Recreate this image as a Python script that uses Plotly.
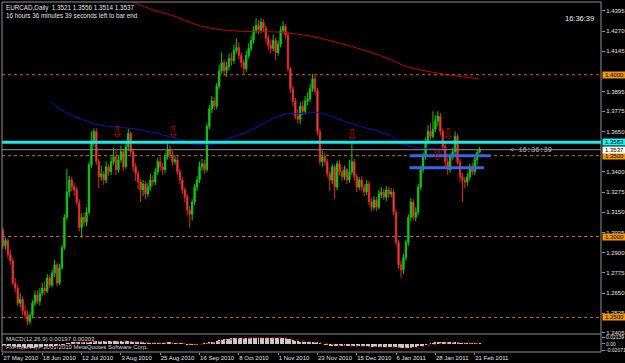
import plotly.graph_objects as go
import pandas as pd

# ---------------- data ----------------
bar_idx = list(range(195))
dates = pd.bdate_range("2010-05-27", periods=195)

opens = [1.3038,1.2944,1.2975,1.2888,1.2850,1.2713,1.2681,1.2588,1.2613,1.2538,
1.2513,1.2475,1.2513,1.2588,1.2638,1.2600,1.2650,1.2681,1.2663,1.2744,
1.2700,1.2775,1.2825,1.2713,1.2806,1.2931,1.3119,1.3275,1.3350,1.3306,
1.3288,1.3213,1.3056,1.3119,1.3088,1.3150,1.3444,1.3588,1.3650,1.3463,
1.3369,1.3388,1.3350,1.3431,1.3400,1.3463,1.3494,1.3413,1.3475,1.3525,
1.3431,1.3556,1.3638,1.3525,1.3431,1.3388,1.3338,1.3288,1.3325,1.3263,
1.3306,1.3350,1.3338,1.3400,1.3463,1.3431,1.3413,1.3494,1.3538,1.3506,
1.3463,1.3475,1.3400,1.3350,1.3288,1.3244,1.3163,1.3138,1.3213,1.3306,
1.3350,1.3431,1.3450,1.3413,1.3681,1.3788,1.3838,1.3806,1.3931,1.4025,
1.4075,1.4025,1.4050,1.4100,1.4088,1.4150,1.4169,1.4119,1.4075,1.4038,
1.4119,1.4163,1.4213,1.4275,1.4306,1.4275,1.4325,1.4288,1.4225,1.4181,
1.4163,1.4213,1.4138,1.4188,1.4275,1.4300,1.4244,1.4038,1.3913,1.3838,
1.3744,1.3725,1.3806,1.3775,1.3838,1.3850,1.3913,1.3975,1.3900,1.3650,
1.3463,1.3494,1.3463,1.3388,1.3350,1.3431,1.3306,1.3450,1.3400,1.3369,
1.3413,1.3350,1.3400,1.3463,1.3369,1.3306,1.3350,1.3306,1.3275,1.3325,
1.3213,1.3181,1.3225,1.3181,1.3263,1.3275,1.3244,1.3288,1.3263,1.3275,
1.3150,1.2963,1.2825,1.2794,1.2869,1.2963,1.3119,1.3213,1.3119,1.3150,
1.3306,1.3413,1.3494,1.3588,1.3650,1.3619,1.3663,1.3713,1.3744,1.3650,
1.3556,1.3463,1.3413,1.3494,1.3525,1.3619,1.3463,1.3369,1.3350,1.3338,
1.3369,1.3431,1.3400,1.3475,1.3521]

highs = [1.3056,1.2994,1.2988,1.2919,1.2869,1.2744,1.2700,1.2650,1.2631,1.2575,
1.2544,1.2531,1.2606,1.2663,1.2669,1.2681,1.2713,1.2725,1.2769,1.2763,
1.2794,1.2856,1.2838,1.2831,1.2950,1.3138,1.3419,1.3375,1.3369,1.3331,
1.3306,1.3231,1.3144,1.3150,1.3181,1.3463,1.3650,1.3669,1.3669,1.3481,
1.3438,1.3406,1.3463,1.3450,1.3494,1.3550,1.3531,1.3500,1.3563,1.3544,
1.3588,1.3669,1.3650,1.3544,1.3456,1.3406,1.3356,1.3350,1.3344,1.3331,
1.3388,1.3381,1.3425,1.3488,1.3494,1.3456,1.3519,1.3575,1.3563,1.3531,
1.3506,1.3494,1.3419,1.3369,1.3306,1.3263,1.3188,1.3231,1.3325,1.3375,
1.3463,1.3481,1.3475,1.3700,1.3813,1.3869,1.3863,1.3950,1.4063,1.4138,
1.4094,1.4081,1.4131,1.4138,1.4188,1.4225,1.4200,1.4138,1.4094,1.4150,
1.4194,1.4244,1.4300,1.4350,1.4338,1.4350,1.4344,1.4306,1.4244,1.4219,
1.4250,1.4231,1.4213,1.4300,1.4331,1.4313,1.4263,1.4050,1.3931,1.3856,
1.3788,1.3831,1.3838,1.3869,1.3894,1.3944,1.4006,1.3994,1.3919,1.3669,
1.3531,1.3519,1.3481,1.3406,1.3450,1.3444,1.3469,1.3475,1.3431,1.3438,
1.3425,1.3475,1.3588,1.3481,1.3388,1.3369,1.3375,1.3325,1.3350,1.3344,
1.3238,1.3250,1.3244,1.3288,1.3306,1.3294,1.3313,1.3306,1.3300,1.3294,
1.3169,1.2981,1.2850,1.2894,1.2981,1.3138,1.3238,1.3231,1.3181,1.3325,
1.3438,1.3519,1.3613,1.3688,1.3700,1.3775,1.3750,1.3775,1.3763,1.3669,
1.3581,1.3488,1.3513,1.3550,1.3650,1.3638,1.3481,1.3394,1.3369,1.3394,
1.3450,1.3456,1.3500,1.3538,1.3556]

lows = [1.2925,1.2919,1.2869,1.2825,1.2700,1.2656,1.2569,1.2563,1.2513,1.2488,
1.2450,1.2456,1.2494,1.2569,1.2581,1.2575,1.2631,1.2638,1.2650,1.2681,
1.2688,1.2750,1.2694,1.2700,1.2794,1.2919,1.3100,1.3244,1.3281,1.3250,
1.3194,1.3031,1.2994,1.3063,1.3063,1.3138,1.3425,1.3556,1.3444,1.3300,
1.3344,1.3319,1.3331,1.3375,1.3381,1.3444,1.3381,1.3394,1.3456,1.3406,
1.3419,1.3531,1.3506,1.3400,1.3344,1.3294,1.3213,1.3250,1.3231,1.3244,
1.3281,1.3313,1.3319,1.3381,1.3406,1.3381,1.3394,1.3475,1.3481,1.3438,
1.3444,1.3381,1.3325,1.3263,1.3213,1.3131,1.3056,1.3100,1.3194,1.3281,
1.3331,1.3406,1.3388,1.3400,1.3663,1.3763,1.3781,1.3788,1.3913,1.4006,
1.3994,1.3988,1.4031,1.4056,1.4069,1.4131,1.4094,1.4044,1.4006,1.4019,
1.4100,1.4144,1.4194,1.4256,1.4250,1.4256,1.4263,1.4200,1.4150,1.4131,
1.4144,1.4088,1.4119,1.4169,1.4256,1.4225,1.4019,1.3888,1.3806,1.3725,
1.3700,1.3694,1.3750,1.3756,1.3813,1.3831,1.3894,1.3881,1.3625,1.3444,
1.3431,1.3438,1.3369,1.3281,1.3325,1.3231,1.3288,1.3375,1.3344,1.3350,
1.3325,1.3331,1.3381,1.3344,1.3275,1.3288,1.3281,1.3250,1.3256,1.3194,
1.3156,1.3163,1.3156,1.3169,1.3238,1.3225,1.3219,1.3238,1.3244,1.3131,
1.2944,1.2800,1.2744,1.2769,1.2850,1.2944,1.3094,1.3100,1.3094,1.3131,
1.3288,1.3394,1.3475,1.3569,1.3594,1.3606,1.3644,1.3681,1.3625,1.3531,
1.3425,1.3381,1.3394,1.3475,1.3506,1.3444,1.3338,1.3213,1.3300,1.3313,
1.3350,1.3381,1.3381,1.3444,1.3514]

closes = [1.2944,1.2975,1.2888,1.2850,1.2713,1.2681,1.2588,1.2613,1.2538,1.2513,
1.2475,1.2513,1.2588,1.2638,1.2600,1.2650,1.2681,1.2663,1.2744,1.2700,
1.2775,1.2825,1.2713,1.2806,1.2931,1.3119,1.3275,1.3350,1.3306,1.3288,
1.3213,1.3056,1.3119,1.3088,1.3150,1.3444,1.3588,1.3650,1.3463,1.3369,
1.3388,1.3350,1.3431,1.3400,1.3463,1.3494,1.3413,1.3475,1.3525,1.3431,
1.3556,1.3638,1.3525,1.3431,1.3388,1.3338,1.3288,1.3325,1.3263,1.3306,
1.3350,1.3338,1.3400,1.3463,1.3431,1.3413,1.3494,1.3538,1.3506,1.3463,
1.3475,1.3400,1.3350,1.3288,1.3244,1.3163,1.3138,1.3213,1.3306,1.3350,
1.3431,1.3450,1.3413,1.3681,1.3788,1.3838,1.3806,1.3931,1.4025,1.4075,
1.4025,1.4050,1.4100,1.4088,1.4150,1.4169,1.4119,1.4075,1.4038,1.4119,
1.4163,1.4213,1.4275,1.4306,1.4275,1.4325,1.4288,1.4225,1.4181,1.4163,
1.4213,1.4138,1.4188,1.4275,1.4300,1.4244,1.4038,1.3913,1.3838,1.3744,
1.3725,1.3806,1.3775,1.3838,1.3850,1.3913,1.3975,1.3900,1.3650,1.3463,
1.3494,1.3463,1.3388,1.3350,1.3431,1.3306,1.3450,1.3400,1.3369,1.3413,
1.3350,1.3400,1.3463,1.3369,1.3306,1.3350,1.3306,1.3275,1.3325,1.3213,
1.3181,1.3225,1.3181,1.3263,1.3275,1.3244,1.3288,1.3263,1.3275,1.3150,
1.2963,1.2825,1.2794,1.2869,1.2963,1.3119,1.3213,1.3119,1.3150,1.3306,
1.3413,1.3494,1.3588,1.3650,1.3619,1.3663,1.3713,1.3744,1.3650,1.3556,
1.3463,1.3413,1.3494,1.3525,1.3619,1.3463,1.3369,1.3350,1.3338,1.3369,
1.3431,1.3400,1.3475,1.3521,1.3537]

# moving averages read at sample bars
ma_blue_idx = [19.2,24.5,34.2,39.5,47.7,55,67.3,74.2,78.3,83.6,87.6,91.7,96.6,104,109.3,115,123,127.2,131.3,136.6,145.5,152.9,158.2,162.3,168,176.1,185.5,192.4]
ma_blue_val = [1.3838,1.3775,1.3713,1.3688,1.3675,1.3663,1.3619,1.3588,1.3569,1.3569,1.3575,1.3606,1.3631,1.3681,1.3725,1.3756,1.3763,1.3769,1.3756,1.3725,1.3681,1.3650,1.3619,1.3575,1.3550,1.3544,1.3538,1.3538]
ma_red_idx = [53.0,61.2,68.5,79.5,87.6,96.6,113,125.2,137.4,153.7,166,193.6]
ma_red_val = [1.4450,1.4400,1.4369,1.4306,1.4281,1.4269,1.4263,1.4238,1.4194,1.4119,1.4044,1.3975]

macd_main = [-0.006,-0.006,-0.007,-0.007,-0.008,-0.009,-0.010,-0.010,-0.011,-0.012,
-0.013,-0.013,-0.012,-0.011,-0.010,-0.010,-0.009,-0.008,-0.007,-0.007,
-0.006,-0.005,-0.005,-0.004,-0.003,-0.001,0.001,0.003,0.004,0.005,
0.005,0.004,0.004,0.004,0.004,0.006,0.008,0.010,0.010,0.010,
0.010,0.009,0.009,0.009,0.009,0.009,0.009,0.009,0.009,0.008,
0.009,0.009,0.009,0.008,0.007,0.006,0.005,0.004,0.003,0.003,
0.003,0.003,0.003,0.003,0.003,0.003,0.003,0.004,0.004,0.003,
0.003,0.003,0.002,0.001,0.000,-0.001,-0.002,-0.002,-0.002,-0.001,
0.000,0.000,0.001,0.003,0.005,0.007,0.008,0.010,0.012,0.013,
0.015,0.016,0.017,0.018,0.019,0.020,0.020,0.020,0.020,0.020,
0.020,0.020,0.021,0.021,0.021,0.021,0.021,0.021,0.020,0.020,
0.020,0.019,0.019,0.019,0.019,0.019,0.017,0.015,0.013,0.011,
0.009,0.008,0.007,0.006,0.006,0.006,0.006,0.006,0.004,0.002,
0.000,-0.002,-0.003,-0.004,-0.005,-0.006,-0.006,-0.007,-0.007,-0.007,
-0.007,-0.007,-0.007,-0.007,-0.007,-0.008,-0.008,-0.008,-0.008,-0.009,
-0.009,-0.010,-0.010,-0.010,-0.010,-0.010,-0.010,-0.010,-0.010,-0.010,
-0.011,-0.013,-0.014,-0.014,-0.014,-0.013,-0.012,-0.011,-0.010,-0.008,
-0.006,-0.004,-0.002,0.000,0.002,0.003,0.004,0.005,0.005,0.005,
0.004,0.004,0.004,0.004,0.004,0.004,0.003,0.003,0.003,0.002,
0.002,0.002,0.002,0.002,0.002]
signal_idx = [0,5,10,15,20,25,30,35,40,45,50,55,60,65,70,75,80,85,90,95,100,105,110,115,120,125,130,135,140,145,150,155,160,165,170,175,180,185,190,194]
signal_val = [-0.005,-0.008,-0.011,-0.011,-0.008,-0.004,0.002,0.005,0.008,0.009,0.009,0.007,0.004,0.003,0.003,0.001,-0.001,0.003,0.010,0.016,0.019,0.020,0.020,0.019,0.013,0.007,0.003,-0.003,-0.006,-0.007,-0.008,-0.010,-0.010,-0.013,-0.009,-0.002,0.003,0.004,0.003,0.002]

price_ticks = [1.4395,1.4270,1.4145,1.3895,1.3775,1.3650,1.3400,1.3275,1.3150,1.3025,1.2900,1.2775,1.2650,1.2525,1.2405]
macd_ticks = [0.02139, 0.0, -0.02071]
macd_tick_text = ["0.02139", "0.00", "-0.02071"]
date_tick_idx = [0,16,32,48,64,80,96,112,128,144,160,176,192]
date_tick_text = ["27 May 2010","18 Jun 2010","12 Jul 2010","3 Aug 2010","25 Aug 2010","16 Sep 2010",
                  "8 Oct 2010","1 Nov 2010","23 Nov 2010","15 Dec 2010","6 Jan 2011","28 Jan 2011","21 Feb 2011"]

round_levels = [1.4000, 1.3500, 1.3000, 1.2500]
cyan_level = 1.3583
bid_level = 1.3537
blue_seg_levels = [1.3500, 1.3425]
blue_seg_start = [165.5, 165.5]
blue_seg_end = [198.5, 195.7]

arrow_down_idx = [46.5, 69.3, 142.3, 181.4]
arrow_down_price = [1.3644, 1.3644, 1.3625, 1.3631]
arrow_up_idx = [176.9]
arrow_up_price = [1.3506]

# ---------------- figure ----------------
FONT = "Liberation Sans, Arial, sans-serif"
fig = go.Figure()

fig.add_trace(go.Candlestick(
    x=bar_idx, open=opens, high=highs, low=lows, close=closes,
    increasing=dict(line=dict(color="#10C810", width=1), fillcolor="#10C810"),
    decreasing=dict(line=dict(color="#E02828", width=1), fillcolor="#F06060"),
    whiskerwidth=0, hoverinfo="skip", xaxis="x", yaxis="y"))

fig.add_trace(go.Scatter(x=ma_blue_idx, y=ma_blue_val, mode="lines", line=dict(color="#0A14B4", width=1, shape="spline"),
                         xaxis="x", yaxis="y", hoverinfo="skip"))
fig.add_trace(go.Scatter(x=ma_red_idx, y=ma_red_val, mode="lines", line=dict(color="#C00000", width=1, shape="spline"),
                         xaxis="x", yaxis="y", hoverinfo="skip"))

fig.add_trace(go.Bar(x=bar_idx, y=macd_main, width=0.4, marker=dict(color="#C8C8C8", line=dict(width=0)),
                     xaxis="x", yaxis="y2", hoverinfo="skip"))
fig.add_trace(go.Scatter(x=signal_idx, y=signal_val, mode="lines", line=dict(color="#E00000", width=1, dash="dot", shape="spline"),
                         xaxis="x", yaxis="y2", hoverinfo="skip"))

shapes = []
for lv in round_levels:
    shapes.append(dict(type="line", xref="paper", yref="y", x0=0, x1=1, y0=lv, y1=lv,
                       line=dict(color="#C86A14", width=1, dash="dot")))
shapes.append(dict(type="line", xref="paper", yref="y", x0=0, x1=1, y0=bid_level, y1=bid_level,
                   line=dict(color="#8C8C8C", width=1)))
shapes.append(dict(type="line", xref="paper", yref="y", x0=0, x1=1, y0=cyan_level, y1=cyan_level,
                   line=dict(color="#18E8E8", width=3)))
for lv, s, e in zip(blue_seg_levels, blue_seg_start, blue_seg_end):
    shapes.append(dict(type="line", xref="x", yref="y", x0=s, x1=e, y0=lv, y1=lv,
                       line=dict(color="#3C64E0", width=3)))
# frame
frame_col = "#909090"
main_bottom = 0.0514
macd_top = 0.0486
shapes += [
    dict(type="line", xref="paper", yref="paper", x0=0, x1=0, y0=0, y1=1, line=dict(color=frame_col, width=1)),
    dict(type="line", xref="paper", yref="paper", x0=1, x1=1, y0=0, y1=1, line=dict(color=frame_col, width=1)),
    dict(type="line", xref="paper", yref="paper", x0=0, x1=1, y0=1, y1=1, line=dict(color=frame_col, width=1)),
    dict(type="line", xref="paper", yref="paper", x0=0, x1=1, y0=main_bottom, y1=main_bottom, line=dict(color=frame_col, width=1)),
    dict(type="line", xref="paper", yref="paper", x0=0, x1=1, y0=0, y1=0, line=dict(color=frame_col, width=1)),
]

ann = []
txt_col = "#E0E0E0"
ann.append(dict(xref="paper", yref="paper", x=0.004, y=0.999, xanchor="left", yanchor="top", showarrow=False,
                text="EURCAD,Daily  1.3521 1.3556 1.3514 1.3537<br>16 hours 36 minutes 39 seconds left to bar end",
                align="left", font=dict(family=FONT, size=6.3, color=txt_col)))
ann.append(dict(xref="paper", yref="paper", x=0.9365, y=0.953, xanchor="left", yanchor="middle", showarrow=False,
                text="16:36:39", font=dict(family=FONT, size=7.5, color="#F0F0F0")))
ann.append(dict(xref="paper", yref="y", x=0.844, y=bid_level, xanchor="left", yanchor="middle", showarrow=False,
                text="< 16:36:39", font=dict(family="Liberation Mono, monospace", size=7, color="#B4B4B4")))
ann.append(dict(xref="paper", yref="paper", x=0.004, y=0.052, xanchor="left", yanchor="top", showarrow=False,
                text="MACD(12,26,9) 0.00197 0.00203", align="left",
                font=dict(family=FONT, size=6, color="#D8D8D8")))
ann.append(dict(xref="paper", yref="paper", x=0.004, y=0.028, xanchor="left", yanchor="top", showarrow=False,
                text="FxPro|MT4|© 2001-2010 MetaQuotes Software Corp.", align="left",
                font=dict(family=FONT, size=6, color="#D8D8D8")))
for xi, yv in zip(arrow_down_idx, arrow_down_price):
    ann.append(dict(xref="x", yref="y", x=xi, y=yv, showarrow=False, text="⇩",
                    font=dict(family="DejaVu Sans", size=15, color="#B40000")))
for xi, yv in zip(arrow_up_idx, arrow_up_price):
    ann.append(dict(xref="x", yref="y", x=xi, y=yv, showarrow=False, text="⇧",
                    font=dict(family="DejaVu Sans", size=15, color="#B40000")))
# right-axis price labels
for lv in round_levels:
    ann.append(dict(xref="paper", yref="y", x=1, xshift=1, y=lv, xanchor="left", yanchor="middle", showarrow=False,
                    text=f"{lv:.4f}", bgcolor="#F0960A", borderpad=0, width=23,
                    font=dict(family=FONT, size=6, color="#000000")))
ann.append(dict(xref="paper", yref="y", x=1, xshift=1, y=cyan_level, xanchor="left", yanchor="middle", showarrow=False,
                text=f"{cyan_level:.4f}", bgcolor="#20F0F0", borderpad=0, width=23,
                font=dict(family=FONT, size=6, color="#000000")))
ann.append(dict(xref="paper", yref="y", x=1, xshift=1, y=bid_level, xanchor="left", yanchor="middle", showarrow=False,
                text=f"{bid_level:.4f}", bgcolor="#FFFFFF", borderpad=0, width=23,
                font=dict(family=FONT, size=6, color="#000000")))

fig.update_layout(
    width=625, height=363,
    margin=dict(l=2, r=24, t=2, b=11, autoexpand=False),
    paper_bgcolor="#000000", plot_bgcolor="#000000",
    showlegend=False, bargap=0, boxgap=0.25,
    shapes=shapes, annotations=ann,
    xaxis=dict(range=[-0.4, 243.4], anchor="y2", showgrid=False, zeroline=False, showline=False,
               tickmode="array", tickvals=date_tick_idx, ticktext=date_tick_text, tickangle=0,
               ticks="outside", ticklen=2, tickcolor="#909090", ticklabelposition="outside right",
               tickfont=dict(family=FONT, size=6, color=txt_col), rangeslider=dict(visible=False),
               automargin=False, fixedrange=True),
    yaxis=dict(domain=[main_bottom, 1], range=[1.23975, 1.4450], side="right", showgrid=False, zeroline=False,
               tickmode="array", tickvals=price_ticks, ticktext=[f"{v:.4f}" for v in price_ticks],
               ticks="outside", ticklen=3, tickcolor="#909090",
               tickfont=dict(family=FONT, size=6, color=txt_col), automargin=False),
    yaxis2=dict(domain=[0, macd_top], range=[-0.0259, 0.0291], side="right", showgrid=False, zeroline=False,
                tickmode="array", tickvals=macd_ticks, ticktext=macd_tick_text,
                ticks="outside", ticklen=3, tickcolor="#909090",
                tickfont=dict(family=FONT, size=5, color=txt_col), automargin=False),
)

fig.write_html("out.html")
